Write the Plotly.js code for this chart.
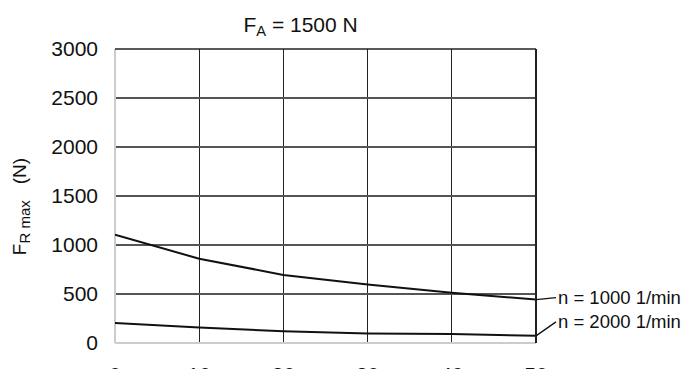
<!DOCTYPE html>
<html>
<head>
<meta charset="utf-8">
<script src="https://cdn.plot.ly/plotly-3.0.1.min.js"></script>
<style>html,body{margin:0;padding:0;background:#fff;}#chart{width:699px;height:369px;}</style>
</head>
<body>
<div id="chart"></div>
<script>
const speedX = [0, 10, 20, 30, 40, 50];
const n1000 = [1105, 860, 695, 597, 512, 443];
const n2000 = [205, 157, 120, 97, 92, 73];
const xTicks = [0, 10, 20, 30, 40, 50];
const yTicks = [0, 500, 1000, 1500, 2000, 2500, 3000];
const seriesNames = ['n = 1000 1/min', 'n = 2000 1/min'];
const titleText = 'F<sub>A</sub> = 1500 N';
const yTitleText = 'F<sub><span style="font-size:15px">R&nbsp;max</span></sub>&nbsp;&nbsp;&nbsp;(N)&nbsp;&nbsp;&nbsp;&nbsp;';

const FONT = 'Liberation Sans, Arial, Helvetica, sans-serif';
const last = speedX.length - 1;

const traces = [
  {x: speedX, y: n1000, mode: 'lines', line: {color: '#111', width: 2}, name: seriesNames[0], hoverinfo: 'skip'},
  {x: speedX, y: n2000, mode: 'lines', line: {color: '#111', width: 2}, name: seriesNames[1], hoverinfo: 'skip'}
];

const layout = {
  width: 699, height: 369,
  margin: {l: 115, r: 163, t: 49, b: 26, pad: 0},
  paper_bgcolor: '#fff', plot_bgcolor: '#fff',
  showlegend: false,
  font: {family: FONT, color: '#111'},
  title: {text: titleText, font: {size: 21, family: FONT, color: '#111'},
          xref: 'container', x: 0.43, xanchor: 'center', yref: 'container', y: 0.934, yanchor: 'middle'},
  xaxis: {range: [0, 50], tickvals: xTicks, ticktext: xTicks.map(String), showgrid: true, gridcolor: '#222', gridwidth: 1,
          zeroline: true, zerolinecolor: '#cccccc', zerolinewidth: 1.5, showline: false, ticks: '',
          ticklabelstandoff: 17, tickfont: {size: 21, family: FONT, color: '#111'}, fixedrange: true},
  yaxis: {range: [0, 3000], tickvals: yTicks, ticktext: yTicks.map(String), showgrid: true, gridcolor: '#555', gridwidth: 1.3,
          zeroline: true, zerolinecolor: '#cccccc', zerolinewidth: 1.5, showline: false, ticks: '',
          ticklabelstandoff: 16, tickfont: {size: 21, family: FONT, color: '#111'}, fixedrange: true,
          title: {text: yTitleText, standoff: 19, font: {size: 19, family: FONT, color: '#111'}}},
  shapes: [
    {type: 'line', xref: 'paper', yref: 'paper', x0: 0, x1: 1, y0: 1, y1: 1, line: {color: '#222', width: 1.5}},
    {type: 'line', xref: 'paper', yref: 'paper', x0: 1, x1: 1, y0: 0, y1: 1, line: {color: '#222', width: 2}}
  ],
  annotations: [
    {x: speedX[last], y: n1000[last], xref: 'x', yref: 'y', text: seriesNames[0], showarrow: true, arrowhead: 0, arrowwidth: 1.3,
     arrowcolor: '#111', ax: 20, ay: -2, xanchor: 'left', yanchor: 'middle', font: {size: 18.5, family: FONT, color: '#111'}},
    {x: speedX[last], y: n2000[last], xref: 'x', yref: 'y', text: seriesNames[1], showarrow: true, arrowhead: 0, arrowwidth: 1.3,
     arrowcolor: '#111', ax: 20, ay: -14, xanchor: 'left', yanchor: 'middle', font: {size: 18.5, family: FONT, color: '#111'}}
  ]
};

Plotly.newPlot('chart', traces, layout, {displayModeBar: false, staticPlot: true});
</script>
</body>
</html>
